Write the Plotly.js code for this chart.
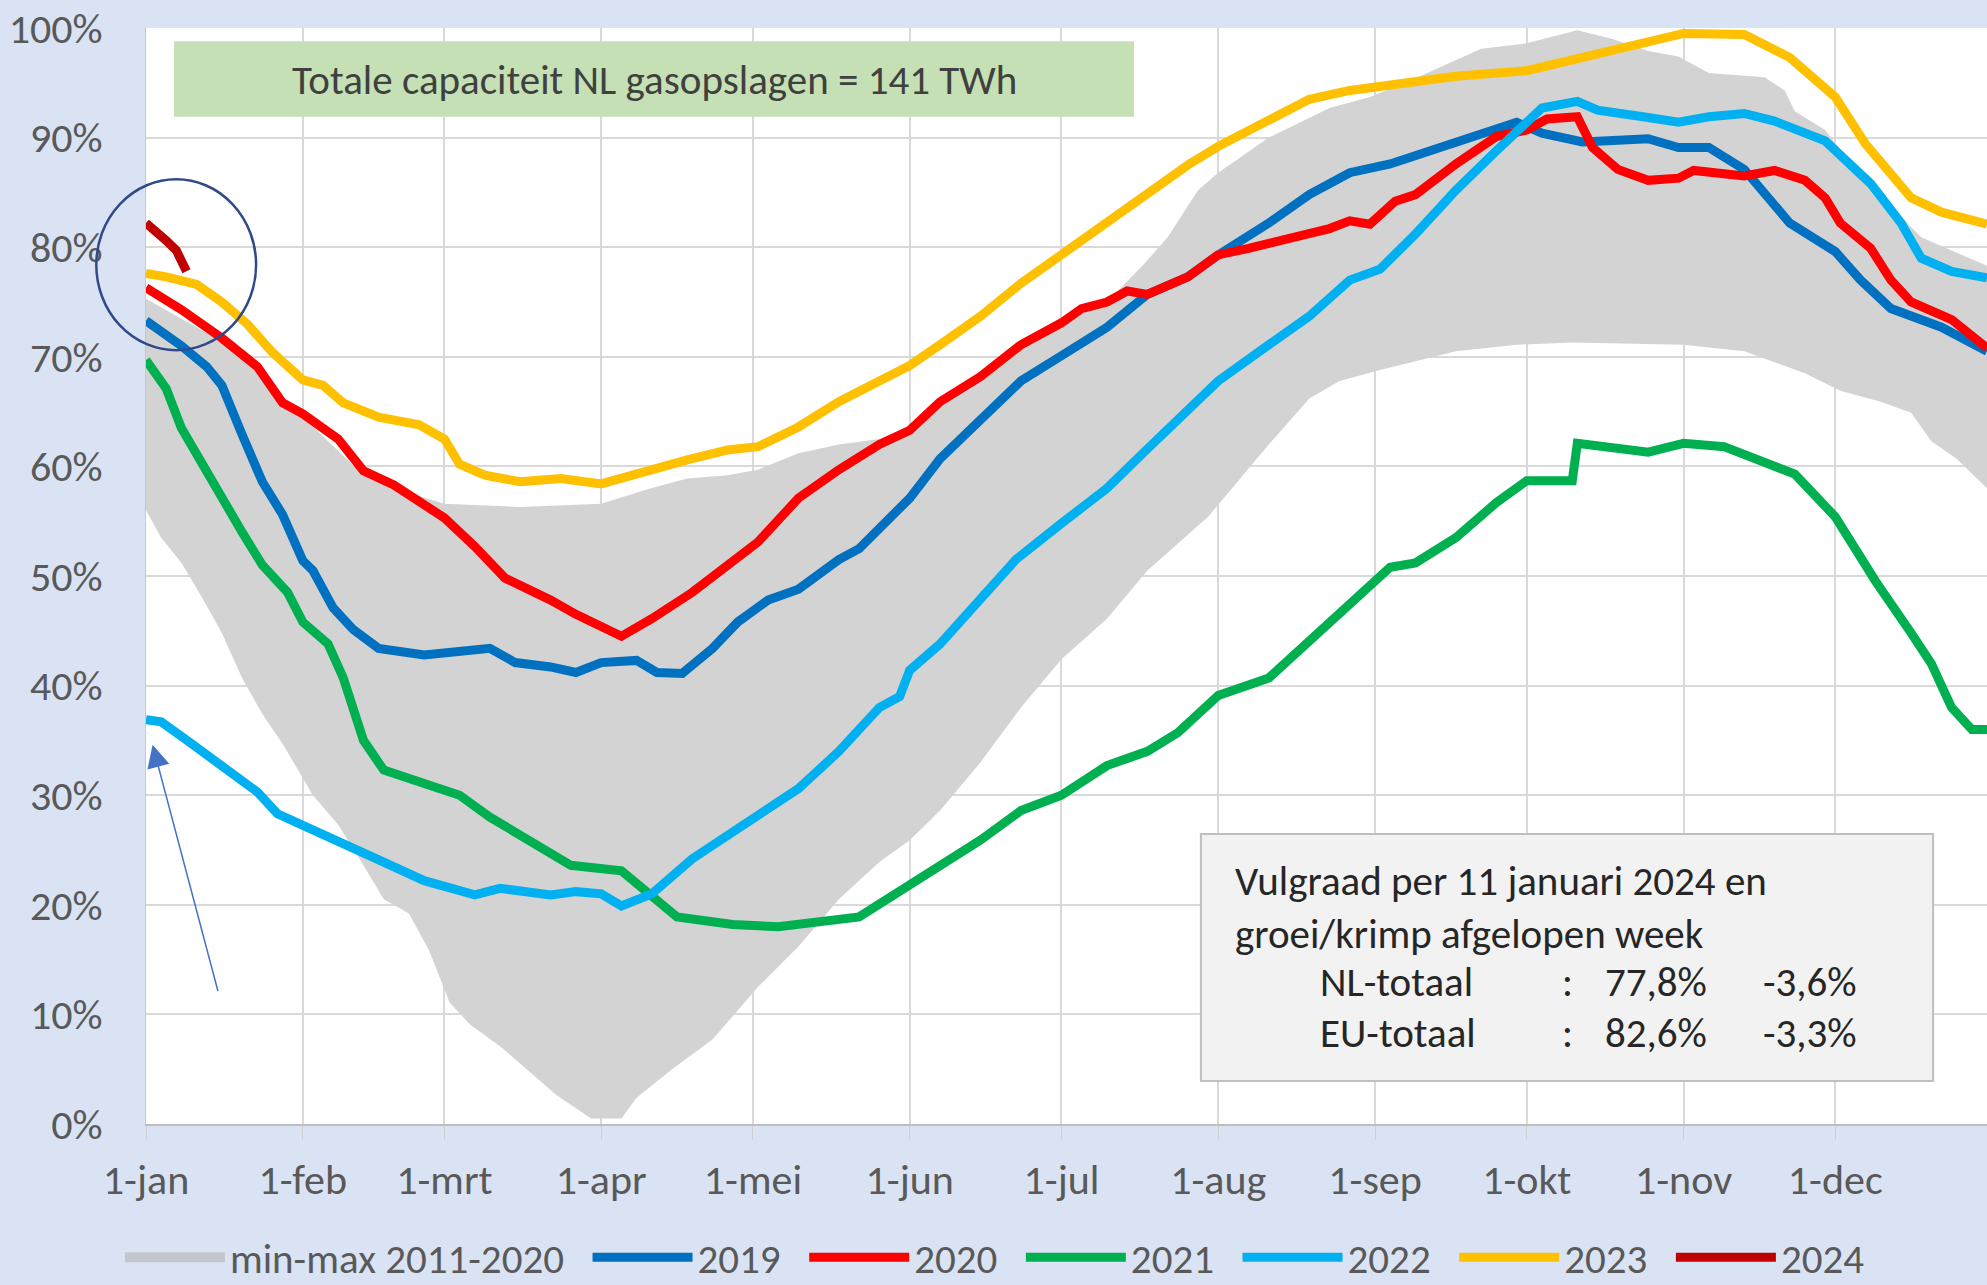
<!DOCTYPE html>
<html>
<head>
<meta charset="utf-8">
<script src="https://cdn.plot.ly/plotly-3.0.1.min.js"></script>
<style>
  html, body { margin: 0; padding: 0; background: #dae3f3; }
  #chart { width: 1987px; height: 1285px; }
</style>
</head>
<body>
<div id="chart"></div>
<script>
// dag van het jaar (0 = 1-jan) en vulgraad in %
const monthStarts = [0, 31, 59, 90, 120, 151, 181, 212, 243, 273, 304, 334];
const monthLabels = ['1-jan', '1-feb', '1-mrt', '1-apr', '1-mei', '1-jun', '1-jul', '1-aug', '1-sep', '1-okt', '1-nov', '1-dec'];

const bandLowDays = [0, 3, 7, 11, 15, 19, 23, 27, 33, 38, 43, 47, 52, 56, 60, 64, 70, 76, 81, 88, 94, 97, 104, 112, 117, 121, 129, 137, 145, 151, 157, 165, 173, 181, 190, 198, 210, 222, 230, 236, 244, 259, 271, 282, 304, 316, 328, 335, 343, 349, 353, 358, 364];
const bandLow = [56, 53.5, 51.2, 48.1, 44.8, 40.7, 37.4, 34.7, 30, 27.3, 23.6, 20.5, 19.2, 15.8, 11.1, 9.1, 7.1, 4.7, 2.7, 0.5, 0.5, 2.4, 5, 7.7, 10.4, 12.5, 16.2, 20.5, 23.9, 25.9, 28.6, 33, 38, 42.4, 46.1, 50.5, 55.4, 62, 66.2, 67.8, 68.8, 70.5, 71.1, 71.3, 71.1, 70.5, 68.5, 66.9, 65.9, 64.9, 62.3, 60.7, 58];

const bandHighDays = [0, 7, 15, 22, 31, 43, 49, 56, 59, 74, 90, 99, 107, 115, 121, 129, 137, 145, 151, 157, 165, 173, 181, 190, 197, 202, 208, 212, 222, 234, 242, 250, 264, 273, 283, 290, 297, 303, 309, 320, 324, 326, 332, 339, 351, 364];
const bandHigh = [75.3, 73.5, 71.4, 68.5, 64.5, 59.2, 58, 57, 56.6, 56.3, 56.6, 57.9, 58.9, 59.2, 59.7, 61.2, 62, 62.5, 63, 65.5, 68, 71, 73, 75, 78.3, 80.9, 85.2, 86.8, 90, 92.7, 93.7, 95.2, 98.1, 98.6, 99.8, 99, 97.9, 97.4, 95.9, 95.5, 94.3, 92.4, 90.7, 86.5, 80.9, 78.3];

const days2019 = [0, 7, 12, 15, 19, 23, 27, 31, 33, 37, 41, 46, 55, 68, 73, 80, 85, 90, 97, 101, 106, 112, 117, 123, 129, 137, 141, 151, 157, 165, 173, 181, 190, 198, 206, 212, 222, 230, 238, 246, 259, 271, 276, 284, 297, 303, 309, 316, 325, 334, 339, 345, 355, 364];
const vals2019 = [73.3, 71, 69.1, 67.4, 62.9, 58.6, 55.6, 51.4, 50.5, 47.1, 45.1, 43.4, 42.8, 43.4, 42.1, 41.7, 41.2, 42.1, 42.3, 41.2, 41.1, 43.4, 45.8, 47.8, 48.8, 51.5, 52.5, 57.1, 60.7, 64.2, 67.8, 70.1, 72.7, 75.7, 77.3, 79.3, 82.2, 84.8, 86.8, 87.6, 89.6, 91.4, 90.4, 89.6, 89.9, 89.1, 89.1, 87.1, 82.2, 79.6, 77, 74.4, 72.7, 70.5];

const days2020 = [0, 7, 15, 22, 27, 31, 38, 43, 49, 56, 59, 65, 71, 80, 85, 94, 100, 108, 116, 121, 129, 137, 145, 151, 157, 165, 173, 181, 185, 190, 194, 198, 206, 212, 218, 226, 234, 238, 242, 247, 251, 259, 267, 273, 277, 283, 286, 291, 297, 303, 306, 316, 322, 328, 332, 335, 341, 345, 349, 357, 364];
const vals2020 = [76.3, 74.3, 71.7, 69.1, 65.8, 64.8, 62.5, 59.6, 58.3, 56.3, 55.3, 52.7, 49.8, 47.8, 46.5, 44.5, 46.1, 48.5, 51.2, 53.1, 57.1, 59.7, 62, 63.3, 65.9, 68.2, 71.1, 73.1, 74.4, 75, 76, 75.7, 77.3, 79.3, 79.9, 80.8, 81.7, 82.4, 82.1, 84.2, 84.8, 87.6, 90.1, 90.7, 91.7, 91.9, 89.1, 87.1, 86.1, 86.3, 87, 86.5, 87, 86.1, 84.5, 82.2, 79.9, 77, 75, 73.4, 70.8];

const days2021 = [0, 4, 7, 11, 15, 19, 23, 28, 31, 36, 39, 43, 47, 55, 62, 68, 76, 84, 94, 100, 105, 116, 125, 141, 149, 157, 165, 173, 181, 190, 198, 204, 212, 222, 230, 238, 246, 251, 259, 267, 273, 282, 283, 297, 304, 312, 320, 326, 334, 342, 349, 353, 357, 361, 364];
const vals2021 = [69.7, 67.1, 63.5, 60.2, 56.9, 54, 51, 48.5, 45.8, 43.8, 40.7, 35, 32.3, 31, 30, 28, 25.9, 23.6, 23.1, 20.9, 18.9, 18.2, 18, 18.9, 21.2, 23.6, 25.9, 28.6, 30, 32.7, 34, 35.7, 39.1, 40.7, 44.1, 47.5, 50.8, 51.2, 53.5, 56.7, 58.7, 58.7, 62.1, 61.3, 62.1, 61.8, 60.3, 59.3, 55.4, 49.5, 44.8, 42, 38, 36, 36];

const days2022 = [0, 3, 9, 15, 22, 26, 33, 39, 47, 55, 65, 70, 80, 85, 90, 94, 100, 108, 116, 121, 129, 137, 145, 149, 151, 157, 165, 172, 181, 190, 198, 206, 212, 222, 230, 238, 244, 251, 259, 267, 273, 276, 283, 287, 296, 303, 309, 316, 322, 332, 341, 347, 351, 357, 364];
const vals2022 = [36.9, 36.7, 34.7, 32.7, 30.3, 28.3, 26.9, 25.6, 23.9, 22.2, 20.9, 21.5, 20.9, 21.2, 21, 19.9, 21, 24.2, 26.6, 28, 30.6, 34, 38, 39, 41.4, 43.8, 47.8, 51.5, 54.8, 58, 61.6, 65.2, 67.8, 71.1, 73.7, 77, 78, 81.2, 85.2, 88.8, 91.4, 92.7, 93.3, 92.5, 91.9, 91.4, 91.9, 92.2, 91.5, 89.7, 85.8, 82.2, 79, 77.8, 77.2];

const days2023 = [0, 4, 10, 15, 20, 25, 31, 35, 39, 46, 54, 59, 62, 67, 74, 82, 90, 99, 107, 115, 121, 129, 137, 145, 151, 157, 165, 173, 181, 190, 198, 206, 212, 222, 230, 238, 246, 259, 273, 280, 290, 297, 304, 316, 325, 334, 340, 349, 355, 364];
const vals2023 = [77.6, 77.3, 76.6, 75, 73, 70.4, 67.9, 67.4, 65.8, 64.5, 63.8, 62.5, 60.2, 59.2, 58.6, 58.9, 58.4, 59.6, 60.6, 61.5, 61.8, 63.6, 65.9, 67.8, 69.2, 71.1, 73.7, 76.7, 79.3, 82.2, 85, 87.5, 89.2, 91.7, 93.5, 94.3, 94.8, 95.6, 96.1, 96.9, 97.9, 98.7, 99.5, 99.4, 97.3, 93.7, 89.4, 84.5, 83.2, 82.1];

const days2024 = [0, 2, 4, 6, 7, 8];
const vals2024 = [82.2, 81.5, 80.6, 79.7, 78.7, 77.8];

const yearNames = ['2019', '2020', '2021', '2022', '2023', '2024'];
const yearColors = ['#0070c0', '#ff0000', '#00b050', '#00b0f0', '#ffc000', '#c00000'];
const yearDays = [days2019, days2020, days2021, days2022, days2023, days2024];
const yearVals = [vals2019, vals2020, vals2021, vals2022, vals2023, vals2024];

const font = 'Carlito, Lato, "Open Sans", sans-serif';
const pad = '\u00a0\u00a0';

const traces = [
  { x: bandLowDays, y: bandLow, mode: 'lines', line: { width: 0 }, showlegend: false, hoverinfo: 'skip' },
  { x: bandHighDays, y: bandHigh, mode: 'lines', line: { width: 0 }, fill: 'tonexty',
    fillcolor: '#d3d3d3', showlegend: false, hoverinfo: 'skip' },
  // alleen voor de legenda: grijs blok
  { x: [null], y: [null], mode: 'lines', line: { width: 24, color: '#c3c7cd' },
    name: 'min-max 2011-2020' + pad }
];
yearNames.forEach((n, i) => {
  traces.push({ x: yearDays[i], y: yearVals[i], mode: 'lines', name: n + pad,
    line: { color: yearColors[i], width: 9 } });
});

const boxFont = { size: 41, color: '#262626' };
function boxText(x, y, text, anchor) {
  return { xref: 'paper', yref: 'paper', x: x, y: y, xanchor: anchor || 'left', yanchor: 'middle',
    showarrow: false, text: text, font: boxFont };
}

const layout = {
  width: 1987, height: 1285,
  margin: { l: 146, r: 0, t: 28, b: 161, autoexpand: false },
  paper_bgcolor: '#dae3f3',
  plot_bgcolor: '#ffffff',
  font: { family: font, size: 42, color: '#595959' },
  xaxis: {
    range: [0, 364], tickvals: monthStarts, ticktext: monthLabels,
    showgrid: true, gridcolor: '#d9d9d9', gridwidth: 2,
    ticks: 'outside', ticklen: 14, tickcolor: '#d0d0d0',
    ticklabelstandoff: 4, zeroline: false, tickfont: { size: 42 },
    showline: true, linecolor: '#bfbfbf', linewidth: 2
  },
  yaxis: {
    range: [0, 100], dtick: 10, ticksuffix: '%',
    showgrid: true, gridcolor: '#d9d9d9', gridwidth: 2,
    ticklabelstandoff: 34, zeroline: false, tickfont: { size: 42 },
    showline: true, linecolor: '#c8c8c8', linewidth: 1
  },
  showlegend: true,
  legend: {
    orientation: 'h', traceorder: 'normal', x: 0.466, xanchor: 'center', y: -0.122, yanchor: 'middle',
    font: { size: 41, color: '#595959' }, itemwidth: 100, bgcolor: 'rgba(0,0,0,0)'
  },
  shapes: [
    { type: 'rect', xref: 'paper', yref: 'paper', x0: 0.0152, x1: 0.5367, y0: 0.919, y1: 0.988,
      fillcolor: '#c5e0b4', line: { width: 0 } },
    { type: 'rect', xref: 'paper', yref: 'paper', x0: 0.573, x1: 0.9707, y0: 0.0392, y1: 0.2646,
      fillcolor: '#f2f2f2', line: { color: '#bfbfbf', width: 2 } },
    { type: 'circle', xref: 'paper', yref: 'paper', x0: -0.027, x1: 0.0598, y0: 0.706, y1: 0.862,
      line: { color: '#2f4a8a', width: 2.5 } }
  ],
  annotations: [
    { xref: 'paper', yref: 'paper', x: 0.276, y: 0.953, xanchor: 'center', yanchor: 'middle', showarrow: false,
      text: 'Totale capaciteit NL gasopslagen = 141 TWh', font: { size: 41, color: '#404040' } },
    boxText(0.5904, 0.2217, 'Vulgraad per 11 januari 2024 en'),
    boxText(0.5904, 0.1734, 'groei/krimp afgelopen week'),
    boxText(0.6366, 0.1296, 'NL-totaal'),
    boxText(0.6366, 0.0830, 'EU-totaal'),
    boxText(0.7724, 0.1296, ':', 'center'),
    boxText(0.7724, 0.0830, ':', 'center'),
    boxText(0.7914, 0.1296, '77,8%'),
    boxText(0.7914, 0.0830, '82,6%'),
    boxText(0.8772, 0.1296, '-3,6%'),
    boxText(0.8772, 0.0830, '-3,3%'),
    { x: 1.3, y: 34.6, xref: 'x', yref: 'y', ax: 14.3, ay: 12, axref: 'x', ayref: 'y',
      showarrow: true, arrowhead: 2, arrowsize: 3, arrowwidth: 1.5, arrowcolor: '#4472c4', text: '' }
  ]
};

Plotly.newPlot('chart', traces, layout, { displayModeBar: false, staticPlot: true });
</script>
</body>
</html>
